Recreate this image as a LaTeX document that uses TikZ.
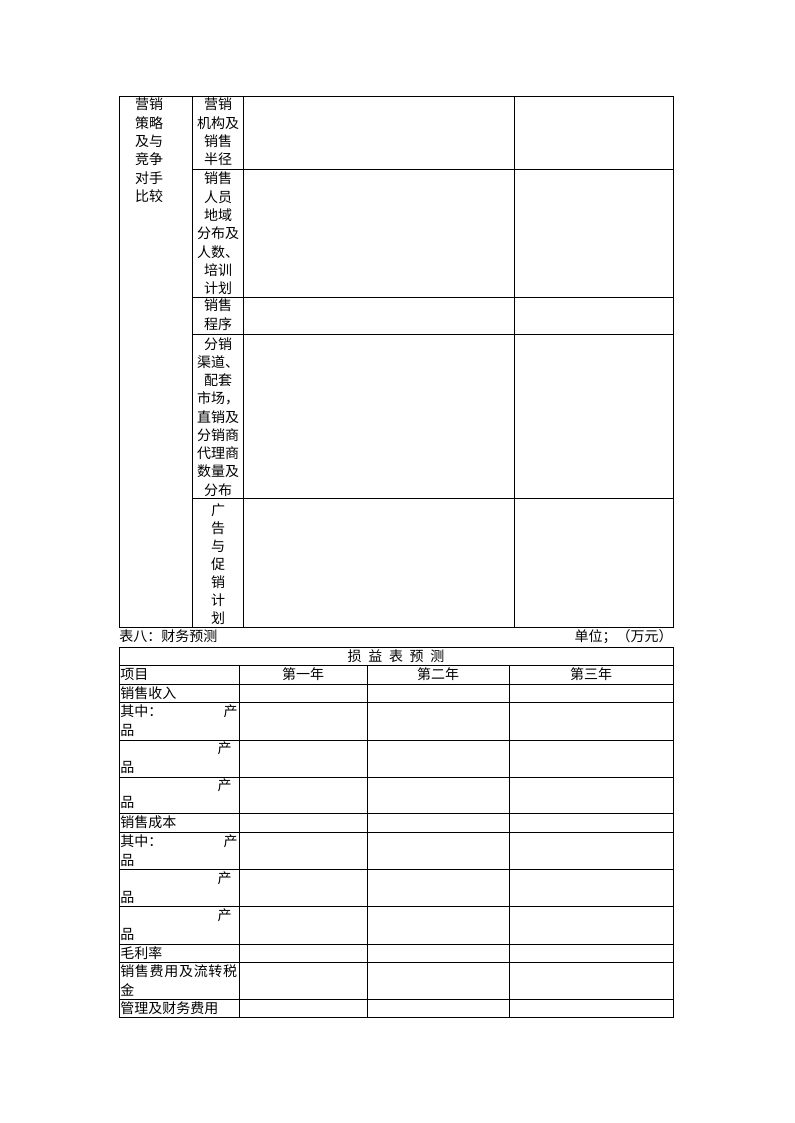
\documentclass[tikz,border=0pt]{standalone}
\usepackage{fontspec}
\newfontfamily\cjk{Noto Sans CJK SC}
\begin{document}
\begin{tikzpicture}[x=0.75pt,y=-0.75pt,
  grid/.style={line width=0.75pt, black},
  t/.style={font=\cjk\fontsize{10.5}{12}\selectfont, inner sep=0pt, anchor=base},
  tl/.style={t, anchor=base west},
  tr/.style={t, anchor=base east}]
\useasboundingbox (0,0) rectangle (794,1123);

% ---------- top table ----------
\draw[grid] (119,97) rectangle (673,627);
\draw[grid] (192,97) -- (192,627);
\draw[grid] (243,97) -- (243,627);
\draw[grid] (514,97) -- (514,627);
\foreach \y in {170,297,334,498} \draw[grid] (192,\y) -- (673,\y);

\foreach \s [count=\i] in {营销,策略,及与,竞争,对手,比较}
  \node[t] (a\i) at (149,{110+18.3*(\i-1)}) {\s};

\foreach \s [count=\i] in {营销,机构及,销售,半径}
  \node[t] (b\i) at (218,{110+18.3*(\i-1)}) {\s};

\foreach \s [count=\i] in {销售,人员,地域,分布及,人数、,培训,计划}
  \node[t] (c\i) at (218,{184+18.3*(\i-1)}) {\s};

\foreach \s [count=\i] in {销售,程序}
  \node[t] (d\i) at (218,{310+19*(\i-1)}) {\s};

\foreach \s [count=\i] in {分销,渠道、,配套,市场，,直销及,分销商,代理商,数量及,分布}
  \node[t] (e\i) at (218,{349+18.25*(\i-1)}) {\s};

\foreach \s [count=\i] in {广,告,与,促,销,计,划}
  \node[t] (f\i) at (218,{515+18*(\i-1)}) {\s};

% ---------- caption ----------
\node[tl] (cap) at (119,641) {表八：财务预测};
\node[tr] (unit) at (673,641) {单位；（万元）};

% ---------- bottom table ----------
\draw[grid] (119,647) rectangle (673,1017);
\foreach \y in {665,684,702,740,777,813,832,869,906,944,962,999}
  \draw[grid] (119,\y) -- (673,\y);
\foreach \x in {239,367,509} \draw[grid] (\x,665) -- (\x,1017);

\node[t] (head) at (396,661) {损\hspace{5pt}益\hspace{5pt}表\hspace{5pt}预\hspace{5pt}测};
\node[tl] (h0) at (120,679) {项目};
\node[t] (h1) at (303,679) {第一年};
\node[t] (h2) at (438,679) {第二年};
\node[t] (h3) at (591,679) {第三年};

\node[tl] (r1) at (120,698) {销售收入};
\node[tl] (r2a) at (120,716) {其中：};
\node[tr] (r2b) at (238,716) {产};
\node[tl] (r2c) at (120,735) {品};
\node[tr] (r3b) at (232,753) {产};
\node[tl] (r3c) at (120,772) {品};
\node[tr] (r4b) at (232,790) {产};
\node[tl] (r4c) at (120,807) {品};
\node[tl] (r5) at (120,827) {销售成本};
\node[tl] (r6a) at (120,846) {其中：};
\node[tr] (r6b) at (238,846) {产};
\node[tl] (r6c) at (120,865) {品};
\node[tr] (r7b) at (232,883) {产};
\node[tl] (r7c) at (120,902) {品};
\node[tr] (r8b) at (232,920) {产};
\node[tl] (r8c) at (120,939) {品};
\node[tl] (r9) at (120,958) {毛利率};
\node[tl] (r10a) at (120,976) {\addfontfeature{LetterSpace=5}销售费用及流转税};
\node[tl] (r10b) at (120,995) {金};
\node[tl] (r11) at (120,1013) {管理及财务费用};
\end{tikzpicture}
\end{document}
